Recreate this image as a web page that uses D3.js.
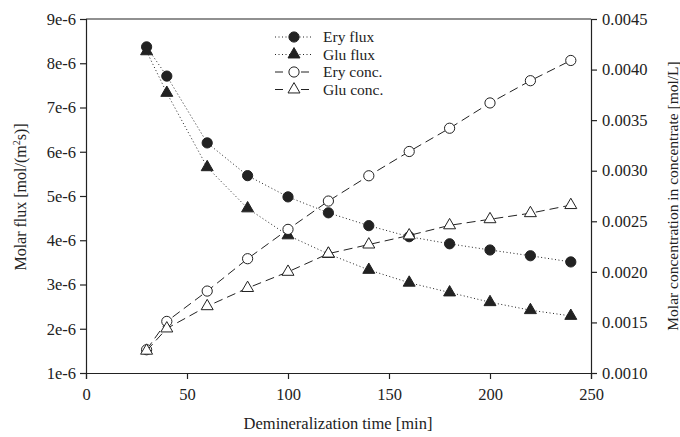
<!DOCTYPE html>
<html>
<head>
<meta charset="utf-8">
<script src="https://cdn.jsdelivr.net/npm/d3@7"></script>
<style>
  body { margin: 0; background: #fff; }
  text { font-family: "Liberation Serif", "Times New Roman", serif; fill: #222; }
</style>
</head>
<body>
<svg width="680" height="437"></svg>
<script>
// data
var times = [30, 40, 60, 80, 100, 120, 140, 160, 180, 200, 220, 240];
var eryFlux = [8.37e-6, 7.71e-6, 6.20e-6, 5.46e-6, 4.98e-6, 4.62e-6, 4.33e-6, 4.08e-6, 3.92e-6, 3.78e-6, 3.65e-6, 3.51e-6];
var gluFlux = [8.27e-6, 7.33e-6, 5.65e-6, 4.72e-6, 4.11e-6, 3.69e-6, 3.33e-6, 3.04e-6, 2.82e-6, 2.60e-6, 2.42e-6, 2.29e-6];
var eryConc = [0.00123, 0.00151, 0.00181, 0.00213, 0.00242, 0.00270, 0.00295, 0.00319, 0.00342, 0.00367, 0.00389, 0.00409];
var gluConc = [0.00122, 0.00144, 0.00166, 0.00184, 0.00200, 0.00218, 0.00227, 0.00236, 0.00246, 0.00252, 0.00258, 0.00266];
var xTicks = [0, 50, 100, 150, 200, 250];
var leftTicks = [1e-6, 2e-6, 3e-6, 4e-6, 5e-6, 6e-6, 7e-6, 8e-6, 9e-6];
var rightTicks = [0.0010, 0.0015, 0.0020, 0.0025, 0.0030, 0.0035, 0.0040, 0.0045];

var svg = d3.select('svg');
var pLeft = 86, pRight = 591, pTop = 19, pBottom = 373;
var ink = '#222';

var x = d3.scaleLinear().domain([0, 250]).range([pLeft, pRight]);
var yL = d3.scaleLinear().domain([1e-6, 9e-6]).range([pBottom, pTop]);
var yR = d3.scaleLinear().domain([0.001, 0.0045]).range([pBottom, pTop]);

// axes
var xAxis = svg.append('g').attr('transform', 'translate(0,' + pBottom + ')')
	.call(d3.axisBottom(x).tickValues(xTicks).tickSize(6).tickPadding(9).tickFormat(d3.format('d')));
var lAxis = svg.append('g').attr('transform', 'translate(' + pLeft + ',0)')
	.call(d3.axisLeft(yL).tickValues(leftTicks).tickSize(6).tickPadding(4)
		.tickFormat((d) => Math.round(d * 1e6) + 'e-6'));
var rAxis = svg.append('g').attr('transform', 'translate(' + pRight + ',0)')
	.call(d3.axisRight(yR).tickValues(rightTicks).tickSize(6).tickPadding(5).tickFormat(d3.format('.4f')));

[xAxis, lAxis, rAxis].forEach((a) => {
	a.select('.domain').attr('stroke', ink).attr('stroke-width', 1.2);
	a.selectAll('.tick line').attr('stroke', ink).attr('stroke-width', 1.2);
	a.selectAll('text').style('font-size', '16.5px').attr('fill', ink)
		.style('font-family', '"Liberation Serif", serif');
});

// top frame line
svg.append('line').attr('x1', pLeft).attr('x2', pRight).attr('y1', pTop).attr('y2', pTop)
	.attr('stroke', ink).attr('stroke-width', 1.2);

// titles
svg.append('text').attr('x', 338).attr('y', 429).attr('text-anchor', 'middle')
	.style('font-size', '16.5px').text('Demineralization time [min]');

var lt = svg.append('text').attr('transform', 'translate(26,197) rotate(-90)')
	.attr('text-anchor', 'middle').style('font-size', '16px');
lt.append('tspan').text('Molar flux [mol/(m');
lt.append('tspan').attr('dy', -6).style('font-size', '10px').text('2');
lt.append('tspan').attr('dy', 6).text('s)]');

svg.append('text').attr('transform', 'translate(678,196) rotate(-90)')
	.attr('text-anchor', 'middle').style('font-size', '15.5px')
	.text('Molar concentration in concentrate [mol/L]');

// series
var series = [
	{ name: 'Ery flux', vals: eryFlux, y: yL, dash: '1,2.5', sym: 'circle', fill: ink },
	{ name: 'Glu flux', vals: gluFlux, y: yL, dash: '1,2.5', sym: 'triangle', fill: ink },
	{ name: 'Ery conc.', vals: eryConc, y: yR, dash: '9,5', sym: 'circle', fill: '#fff' },
	{ name: 'Glu conc.', vals: gluConc, y: yR, dash: '9,5', sym: 'triangle', fill: '#fff' }
];

function symPath(s) {
	return s == 'circle' ? d3.symbol(d3.symbolCircle, 82)() : d3.symbol(d3.symbolTriangle, 62)();
}

series.forEach((s) => {
	var pts = times.map((t, i) => [x(t), s.y(s.vals[i])]);
	svg.append('path').attr('d', d3.line()(pts))
		.attr('fill', 'none').attr('stroke', ink).attr('stroke-width', 1)
		.attr('stroke-dasharray', s.dash);
	svg.selectAll(null).data(pts).enter().append('path')
		.attr('d', symPath(s.sym))
		.attr('transform', (p) => 'translate(' + p[0] + ',' + p[1] + ')')
		.attr('fill', s.fill).attr('stroke', ink).attr('stroke-width', 1);
});

// legend
var lg = svg.append('g');
series.forEach((s, i) => {
	var yy = 37 + i * 17.5;
	lg.append('line').attr('x1', 275).attr('x2', 313).attr('y1', yy).attr('y2', yy)
		.attr('stroke', ink).attr('stroke-width', 1)
		.attr('stroke-dasharray', i < 2 ? '1,2.5' : '8,30');
	if (i >= 2) {
		lg.append('line').attr('x1', 301).attr('x2', 309).attr('y1', yy).attr('y2', yy)
			.attr('stroke', ink).attr('stroke-width', 1);
	}
	lg.append('path').attr('d', symPath(s.sym))
		.attr('transform', 'translate(294,' + yy + ')')
		.attr('fill', s.fill).attr('stroke', ink).attr('stroke-width', 1);
	lg.append('text').attr('x', 323).attr('y', yy + 5).style('font-size', '15.5px').text(s.name);
});
</script>
</body>
</html>
